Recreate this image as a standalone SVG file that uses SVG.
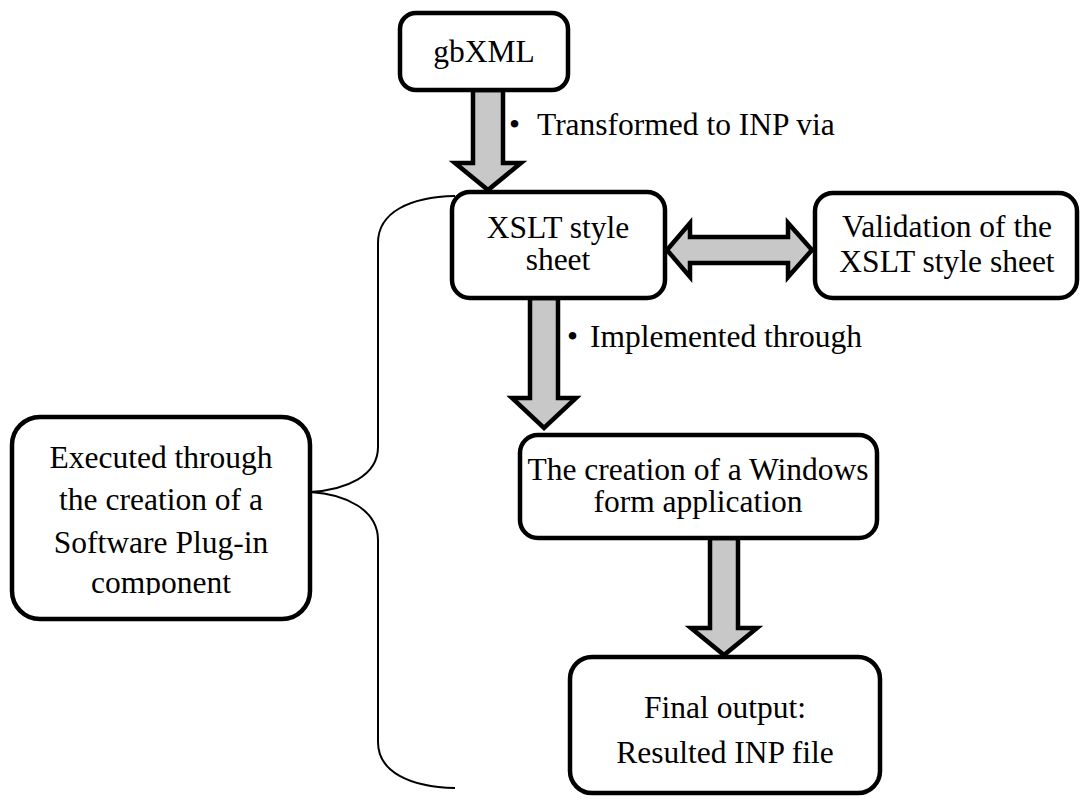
<svg xmlns="http://www.w3.org/2000/svg" width="1080" height="804" viewBox="0 0 1080 804">
<style>
.box{fill:#ffffff;stroke:#000000;stroke-width:4.5}
.arr{fill:#c8c8c8;stroke:#000000;stroke-width:4.5;stroke-linejoin:miter}
.t{font-family:"Liberation Serif","Times New Roman",serif;font-size:31.5px;fill:#000000}
.c{text-anchor:middle}
.brace{fill:none;stroke:#000000;stroke-width:2}
</style>
<defs>
<clipPath id="leftclip"><rect x="0" y="400" width="330" height="195"/></clipPath>
</defs>
<rect width="1080" height="804" fill="#ffffff"/>
<g id="connectors">
<polygon class="arr" points="473,90 503,90 503,163 521,163 488,190 455,163 473,163"/>
<polygon class="arr" points="530,298 558,298 558,398 576,398 544,428 512,398 530,398"/>
<polygon class="arr" points="710,538 738,538 738,628 757,628 724,655 691,628 710,628"/>
<polygon class="arr" points="667,250 690,223 690,237 788,237 788,223 812,250 788,277 788,263 690,263 690,277"/>
<path class="brace" d="M455,196 C410,197 378,212 378,243 L378,447 C378,476 346,490 310,492 C346,494 378,510 378,540 L378,742 C378,772 410,787 455,788"/>
<text class="t" x="509" y="135">•</text>
<text class="t" x="537" y="135">Transformed to INP via</text>
<text class="t" x="567" y="347">•</text>
<text class="t" x="590" y="347">Implemented through</text>
</g>
<g id="gbxml">
<rect class="box" x="400" y="13" width="168" height="77" rx="16"/>
<text class="t c" x="484" y="62">gbXML</text>
</g>
<g id="xslt">
<rect class="box" x="452" y="192" width="213" height="106" rx="18"/>
<text class="t c" x="558" y="238">XSLT style</text>
<text class="t c" x="558" y="270">sheet</text>
</g>
<g id="validation">
<rect class="box" x="815" y="193" width="262" height="105" rx="18"/>
<text class="t c" x="947" y="237">Validation of the</text>
<text class="t c" x="947" y="272">XSLT style sheet</text>
</g>
<g id="windows">
<rect class="box" x="520" y="435" width="357" height="103" rx="18"/>
<text class="t c" x="698" y="480">The creation of a Windows</text>
<text class="t c" x="698" y="512">form application</text>
</g>
<g id="final">
<rect class="box" x="570" y="657" width="310" height="136" rx="22"/>
<text class="t c" x="725" y="718">Final output:</text>
<text class="t c" x="725" y="763">Resulted INP file</text>
</g>
<g id="plugin">
<rect class="box" x="12" y="417" width="298" height="202" rx="28"/>
<g clip-path="url(#leftclip)">
<text class="t c" x="161" y="468">Executed through</text>
<text class="t c" x="161" y="510">the creation of a</text>
<text class="t c" x="161" y="553">Software Plug-in</text>
<text class="t c" x="161" y="593">component</text>
</g>
</g>
</svg>
